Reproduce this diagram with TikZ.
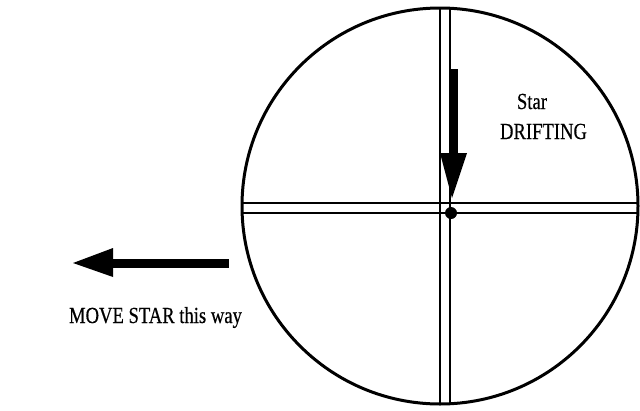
\documentclass[tikz,border=0pt]{standalone}
\usepackage{fontspec}
\setmainfont{Liberation Serif}
\newfontfamily\scanfont[FakeBold=0.5]{Liberation Serif}
\begin{document}
\begin{tikzpicture}[x=1pt,y=-1pt,
  reticle/.style={line width=2.5pt,black},
  rim/.style={line width=3pt,black},
  label/.style={inner sep=0pt,anchor=base,font=\scanfont\fontsize{23}{28}\selectfont}]
\useasboundingbox (0,0) rectangle (640,410);
\fill[white] (0,0) rectangle (640,410);
\coordinate (c) at (440,206);
% crosshair clipped to the field
\begin{scope}
  \clip (c) circle (198);
  \draw[reticle] (230,203) -- (650,203);
  \draw[reticle] (230,213) -- (650,213);
  \draw[reticle] (440,0) -- (440,410);
  \draw[reticle] (450,0) -- (450,410);
\end{scope}
\draw[rim] (c) circle (198);
% star dot
\fill (451,213) circle (6);
% drifting arrow
\fill (451,69) rectangle (457.5,154);
\fill (440,153) -- (467,153) -- (452,198) -- cycle;
% move arrow
\fill (113,258.5) rectangle (229,267.5);
\fill (113,248) -- (113,277) -- (73,263) -- cycle;
% labels
\node[label] (star) at (532,109) {\scalebox{0.81}[1]{Star}};
\node[label] (drift) at (543.5,139) {\scalebox{0.81}[1]{DRIFTING}};
\node[label] (move) at (155.5,323) {\scalebox{0.81}[1]{MOVE STAR this way}};
\end{tikzpicture}
\end{document}
